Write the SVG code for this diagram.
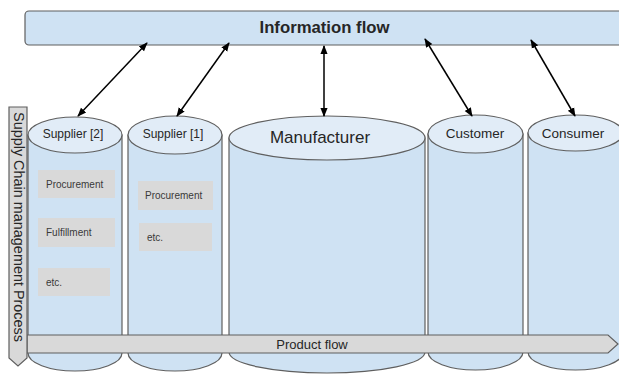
<svg xmlns="http://www.w3.org/2000/svg" width="619" height="374" viewBox="0 0 619 374">
<defs>
<style>
.cyl{fill:#cfe2f3;stroke:#5f5f5f;stroke-width:1.2}
.top{fill:#e1ecf7;stroke:#5f5f5f;stroke-width:1.2}
.box{fill:#d9d9d9;stroke:none}
.grey{fill:#d9d9d9;stroke:#5f5f5f;stroke-width:1.2}
.lbl{font-family:"Liberation Sans",Arial,sans-serif;fill:#262626;text-anchor:middle}
.small{font-family:"Liberation Sans",Arial,sans-serif;fill:#3a3a3a;font-size:10px}
.conn{stroke:#000;stroke-width:1.5;fill:none;marker-start:url(#ah);marker-end:url(#ah)}
</style>
<marker id="ah" viewBox="0 0 10 10" refX="9" refY="5" markerWidth="6" markerHeight="6" orient="auto-start-reverse" markerUnits="strokeWidth">
<path d="M0,1 L10,5 L0,9 z" fill="#000"/>
</marker>
</defs>
<rect width="619" height="374" fill="#fff"/>

<g id="information-flow">
<rect x="25" y="11" width="610" height="34" rx="4" fill="#cfe2f3" stroke="#5f5f5f" stroke-width="1.2"/>
<text x="324.5" y="33" class="lbl" font-size="16" font-weight="bold" textLength="130" lengthAdjust="spacingAndGlyphs">Information flow</text>
</g>

<g id="supplier-2">
<path class="cyl" d="M28,135 L28,353 A47,18 0 0 0 122,353 L122,135 Z"/>
<ellipse class="top" cx="75" cy="135" rx="47" ry="18"/>
<text x="73" y="138" class="lbl" font-size="12">Supplier [2]</text>
<rect class="box" x="38" y="170" width="77" height="28"/>
<text x="46" y="188" class="small">Procurement</text>
<rect class="box" x="38" y="218" width="77" height="29"/>
<text x="46" y="236" class="small">Fulfillment</text>
<rect class="box" x="38" y="268" width="72" height="28"/>
<text x="46" y="286" class="small">etc.</text>
</g>

<g id="supplier-1">
<path class="cyl" d="M128,135 L128,353 A47,18 0 0 0 222,353 L222,135 Z"/>
<ellipse class="top" cx="175" cy="135" rx="47" ry="19"/>
<text x="173" y="138" class="lbl" font-size="12">Supplier [1]</text>
<rect class="box" x="138" y="181" width="75" height="29"/>
<text x="145" y="199" class="small">Procurement</text>
<rect class="box" x="139" y="223" width="73" height="28"/>
<text x="147" y="241" class="small">etc.</text>
</g>

<g id="manufacturer">
<path class="cyl" d="M229,138 L229,352 A98,21 0 0 0 425,352 L425,138 Z"/>
<ellipse class="top" cx="327" cy="138" rx="98" ry="22"/>
<text x="320" y="143" class="lbl" font-size="17">Manufacturer</text>
</g>

<g id="customer">
<path class="cyl" d="M428,134 L428,352 A47.5,18 0 0 0 523,352 L523,134 Z"/>
<ellipse class="top" cx="475.5" cy="134" rx="47.5" ry="19"/>
<text x="475" y="138" class="lbl" font-size="13.5">Customer</text>
</g>

<g id="consumer">
<path class="cyl" d="M528,133 L528,352 A47.5,18 0 0 0 623,352 L623,133 Z"/>
<ellipse class="top" cx="575.5" cy="133" rx="47.5" ry="18"/>
<text x="573" y="138" class="lbl" font-size="13.5">Consumer</text>
</g>

<g id="product-flow">
<polygon class="grey" points="27,335 608,335 618,344 608,353 27,353"/>
<text x="312" y="349" class="lbl" font-size="13">Product flow</text>
</g>

<g id="supply-chain-process">
<polygon class="grey" points="9,107 27,107 27,358 18,366 9,358"/>
<text transform="translate(14,227) rotate(90)" class="lbl" font-size="14" textLength="230" lengthAdjust="spacingAndGlyphs">Supply Chain management Process</text>
</g>

<g id="connectors">
<line class="conn" x1="147" y1="43" x2="78" y2="116"/>
<line class="conn" x1="229" y1="43" x2="177" y2="116"/>
<line class="conn" x1="324" y1="46" x2="324" y2="116"/>
<line class="conn" x1="425" y1="39" x2="472" y2="116"/>
<line class="conn" x1="531" y1="40" x2="575" y2="116"/>
</g>
</svg>
